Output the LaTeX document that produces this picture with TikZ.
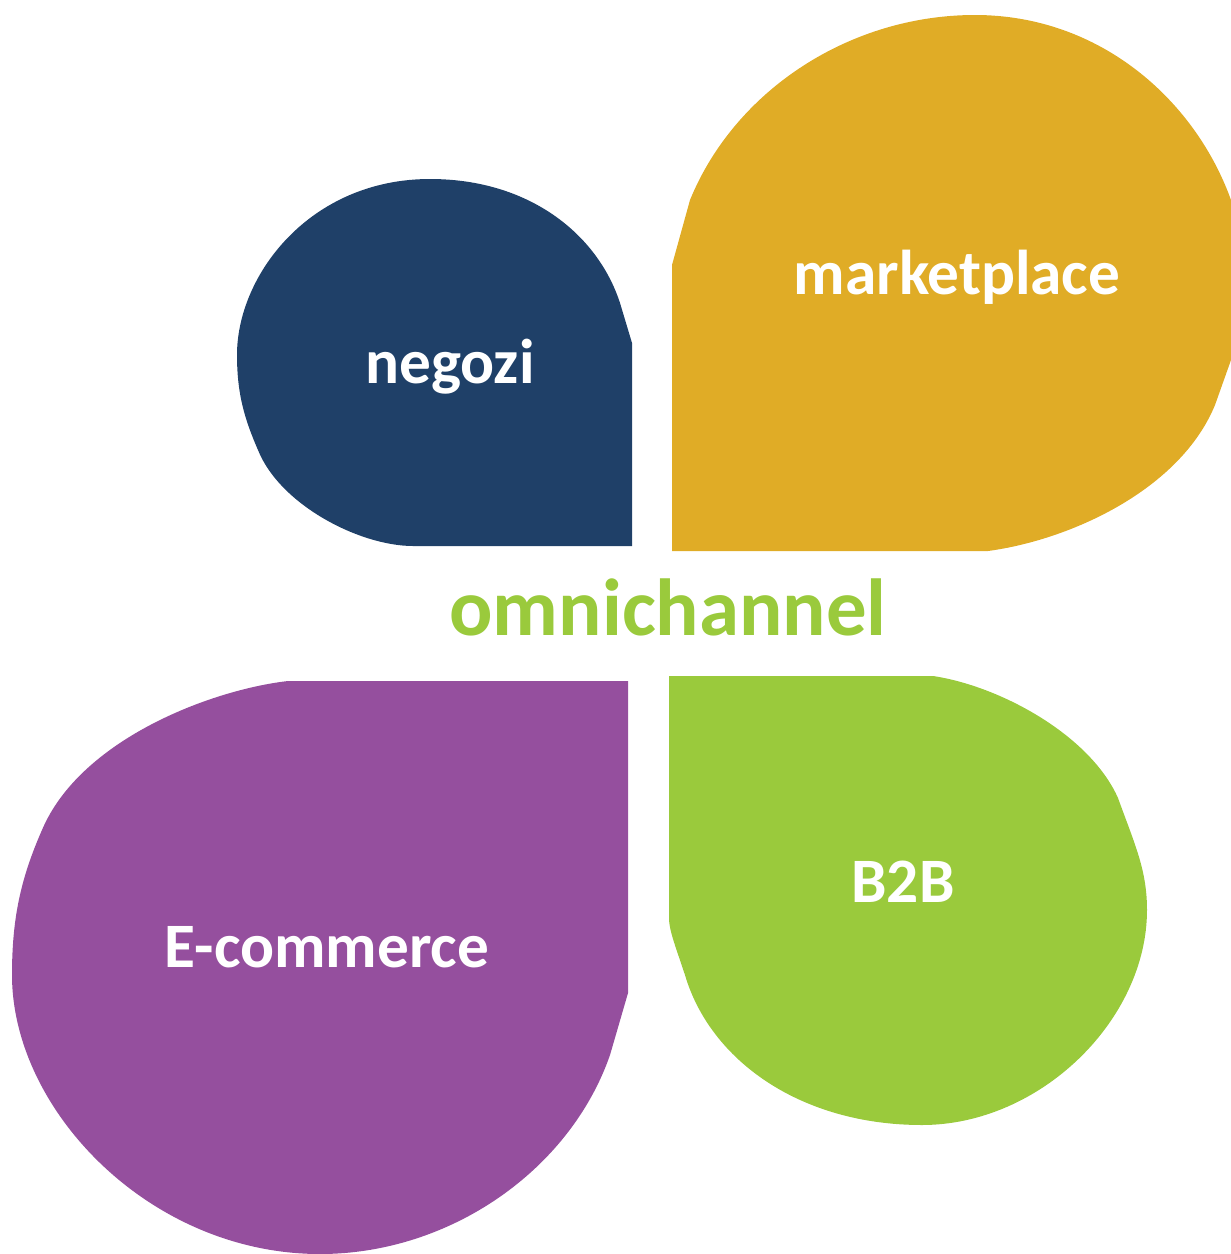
\documentclass[tikz,border=0pt]{standalone}
\usepackage{fontspec}
\setmainfont{Carlito}
\definecolor{navy}{RGB}{31,64,104}
\definecolor{gold}{RGB}{224,172,38}
\definecolor{plum}{RGB}{149,79,158}
\definecolor{leaf}{RGB}{154,202,60}
\begin{document}
\begin{tikzpicture}[x=0.01cm,y=-0.01cm,
	lbl/.style={text=white,anchor=base,font=\bfseries\fontsize{18}{20}\selectfont}]
		\useasboundingbox (0,0) rectangle (1231,1254);
		
		\fill[navy] (632,546) -- (632,343) -- (620,303) .. controls (598,235) and (530,179) .. (430,179) .. controls (310,179) and (237,275) .. (237,355) .. controls (237,395) and (245,420) .. (258,450) .. controls (280,505) and (360,546) .. (413,546) -- cycle;
		\fill[gold] (672,551) -- (672,265) -- (690,200) .. controls (735,90) and (850,15) .. (975,15) .. controls (1100,15) and (1195,100) .. (1231,200) -- (1231,360) -- (1215,405) .. controls (1180,490) and (1070,540) .. (988,551) -- cycle;
		\fill[plum] (628,681) -- (628,993) -- (610,1055) .. controls (570,1170) and (450,1254) .. (320,1254) .. controls (150,1254) and (12,1110) .. (12,975) .. controls (12,920) and (20,880) .. (42,830) .. controls (80,740) and (210,690) .. (288,681) -- cycle;
		\fill[leaf] (669,676) -- (933,676) .. controls (1000,686) and (1090,735) .. (1118,798) .. controls (1135,845) and (1147,870) .. (1147,910) .. controls (1147,1020) and (1040,1125) .. (922,1125) .. controls (800,1125) and (710,1060) .. (685,975) .. controls (675,945) and (669,930) .. (669,918) -- cycle;
		
		\node[lbl] (negozi) at (450,383) {negozi};
		\node[lbl] (market) at (957,294) {marketplace};
		\node[lbl] (ecom) at (327,967) {E-commerce};
		\node[lbl] (btob) at (903,902) {B2B};
		\node[lbl,text=leaf,font=\bfseries\fontsize{23}{26}\selectfont] (omni) at (668,635) {omnichannel};
		\end{tikzpicture}
\end{document}
